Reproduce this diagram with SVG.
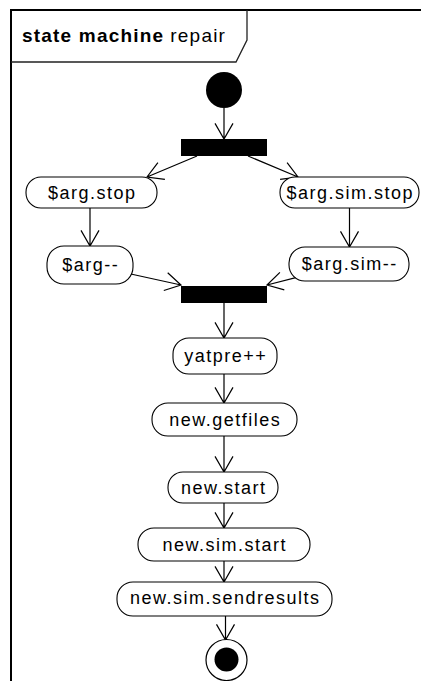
<svg xmlns="http://www.w3.org/2000/svg" width="421" height="681" viewBox="0 0 421 681">
<style>
.frame{fill:none;stroke:#000;stroke-width:2}
.tab{fill:none;stroke:#222;stroke-width:1.3}
.node rect{fill:#fff;stroke:#000;stroke-width:1.1}
.node text{font-family:"Liberation Sans",Arial,sans-serif;font-size:18px;letter-spacing:1.5px;text-anchor:middle;fill:#000}
.title{font-family:"Liberation Sans",Arial,sans-serif;font-size:19px;letter-spacing:1.2px;fill:#000}
.bar{fill:#000}
#connectors path{fill:none;stroke:#000;stroke-width:1.2}
</style>
<rect x="0" y="0" width="421" height="681" fill="#fff"/>
<path class="frame" d="M11,681 V10 H421"/>
<path class="tab" d="M11,62 H236 L247,40 V10"/>
<text class="title" x="22" y="41.5"><tspan font-weight="bold">state machine</tspan><tspan dx="6">repair</tspan></text>

<g id="connectors">
<path d="M224,108 V139 M215,123.4 L224,139 L233,123.4"/>
<path d="M197,156 L147,177 M157.9,162.7 L147,177 L164.9,179.3"/>
<path d="M248,156 L298,177 M287.1,162.7 L298,177 L280.1,179.3"/>
<path d="M90,208 V246 M81,230.4 L90,246 L99,230.4"/>
<path d="M349.5,208 V247 M340.5,231.4 L349.5,247 L358.5,231.4"/>
<path d="M130.8,274 L181,285 M167.7,272.8 L181,285 L163.8,290.5"/>
<path d="M295.8,277.6 L267,285 M279.9,272.4 L267,285 L284.3,289.9"/>
<path d="M224,303 V338 M215,322.4 L224,338 L233,322.4"/>
<path d="M224,374 V403 M215,387.4 L224,403 L233,387.4"/>
<path d="M224,436 V472 M215,456.4 L224,472 L233,456.4"/>
<path d="M224,503 V528 M215,512.4 L224,528 L233,512.4"/>
<path d="M224,561 V582 M215,566.4 L224,582 L233,566.4"/>
<path d="M225.5,616 V640 M216.5,624.4 L225.5,640 L234.5,624.4"/>
</g>

<g id="initial"><circle cx="224" cy="90" r="18" fill="#000"/></g>
<g id="fork"><rect class="bar" x="181" y="139" width="86" height="17"/></g>
<g id="arg-stop" class="node"><rect x="26" y="177" width="131" height="31" rx="15"/><text x="92.25" y="198.5">$arg.stop</text></g>
<g id="arg-sim-stop" class="node"><rect x="280" y="177" width="139" height="31" rx="15"/><text x="350.25" y="198.5">$arg.sim.stop</text></g>
<g id="arg-dec" class="node"><rect x="47" y="246" width="86" height="38" rx="17"/><text x="90.75" y="271">$arg--</text></g>
<g id="arg-sim-dec" class="node"><rect x="289" y="247" width="120" height="34" rx="16"/><text x="349.75" y="270">$arg.sim--</text></g>
<g id="join"><rect class="bar" x="181" y="286" width="86" height="17"/></g>
<g id="yatpre" class="node"><rect x="173" y="338" width="104" height="36" rx="16"/><text x="225.75" y="362">yatpre++</text></g>
<g id="getfiles" class="node"><rect x="152" y="403" width="145" height="33" rx="16"/><text x="225.25" y="425.5">new.getfiles</text></g>
<g id="start" class="node"><rect x="168" y="472" width="110" height="31" rx="15"/><text x="223.75" y="493.5">new.start</text></g>
<g id="sim-start" class="node"><rect x="138" y="528" width="172" height="33" rx="16"/><text x="224.75" y="550.5">new.sim.start</text></g>
<g id="sendresults" class="node"><rect x="117" y="582" width="215" height="34" rx="16"/><text x="225.25" y="604">new.sim.sendresults</text></g>
<g id="final"><circle cx="226.5" cy="660" r="20.5" fill="#fff" stroke="#000" stroke-width="1.2"/><circle cx="226.5" cy="659.5" r="12" fill="#000"/></g>
</svg>
